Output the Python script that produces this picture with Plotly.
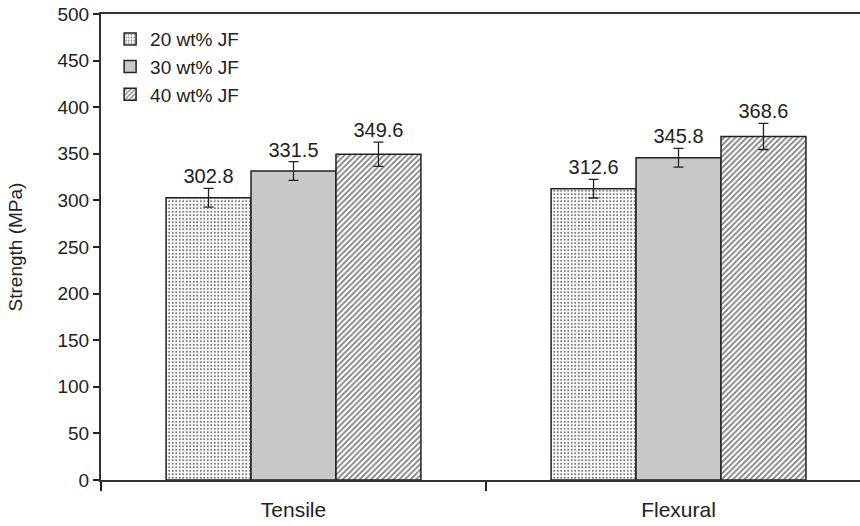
import plotly.graph_objects as go

categories = ["Tensile", "Flexural"]
series_names = ["20 wt% JF", "30 wt% JF", "40 wt% JF"]
values_20 = [302.8, 312.6]
values_30 = [331.5, 345.8]
values_40 = [349.6, 368.6]
errors_20 = [10, 10]
errors_30 = [10, 10]
errors_40 = [13, 14]
y_ticks = [0, 50, 100, 150, 200, 250, 300, 350, 400, 450, 500]

FONT = "Liberation Sans, Arial, sans-serif"
INK = "#222222"

styles = [
    dict(color="white", pattern=dict(shape=".", fgcolor="#000000", bgcolor="white", size=3.5, solidity=0.3)),
    dict(color="#c7c8ca", pattern=dict(shape="")),
    dict(color="white", pattern=dict(shape="/", fgcolor="#000000", bgcolor="white", size=4, solidity=0.45)),
]
vals = [values_20, values_30, values_40]
errs = [errors_20, errors_30, errors_40]

fig = go.Figure()
for i in range(3):
    fig.add_trace(go.Bar(
        name=series_names[i], x=categories, y=vals[i],
        marker=dict(color=styles[i]["color"], pattern=styles[i]["pattern"],
                    line=dict(color=INK, width=1.5)),
        error_y=dict(type="data", array=errs[i], color=INK, thickness=1.3, width=5),
        offsetgroup=str(i), legendgroup=str(i),
    ))
for i in range(3):
    fig.add_trace(go.Scatter(
        x=categories, y=[v + e for v, e in zip(vals[i], errs[i])],
        text=[f"{v:.1f}" for v in vals[i]], mode="text", textposition="top center",
        textfont=dict(size=20, color=INK, family=FONT),
        offsetgroup=str(i), showlegend=False, hoverinfo="skip",
    ))

fig.update_layout(
    width=860, height=526,
    margin=dict(l=101, r=0, t=14, b=46),
    paper_bgcolor="white", plot_bgcolor="white",
    barmode="group", bargap=0.338, bargroupgap=0,
    scattermode="group", scattergap=0.338,
    font=dict(family=FONT, size=20, color=INK),
    showlegend=True,
    legend=dict(x=0.012, y=0.987, xanchor="left", yanchor="top",
                bgcolor="rgba(0,0,0,0)", font=dict(size=19, color=INK),
                tracegroupgap=0, traceorder="normal"),
)
fig.update_xaxes(
    type="category", range=[-0.5, 1.4714], tickson="boundaries",
    ticks="outside", ticklen=9, tickwidth=1.5, tickcolor=INK,
    showline=True, linecolor="#333333", linewidth=2, mirror=True,
    showgrid=False, tickfont=dict(size=21, color=INK), ticklabelstandoff=10,
    automargin=False,
)
fig.update_yaxes(
    range=[0, 500], tickvals=y_ticks, ticks="outside", ticklen=6, tickwidth=1.5,
    tickcolor=INK, showline=True, linecolor="#333333", linewidth=2,
    showgrid=False, zeroline=False, tickfont=dict(size=19, color=INK),
    ticklabeloverflow="allow", automargin=False,
    title=dict(text="Strength (MPa)", font=dict(size=19, color=INK), standoff=30),
)

# remove the browser's default 8px body margin so the figure fills the window
fig.write_html("out.html", config={"displayModeBar": False},
               post_script="document.body.style.margin='0';document.body.style.overflow='hidden';")
